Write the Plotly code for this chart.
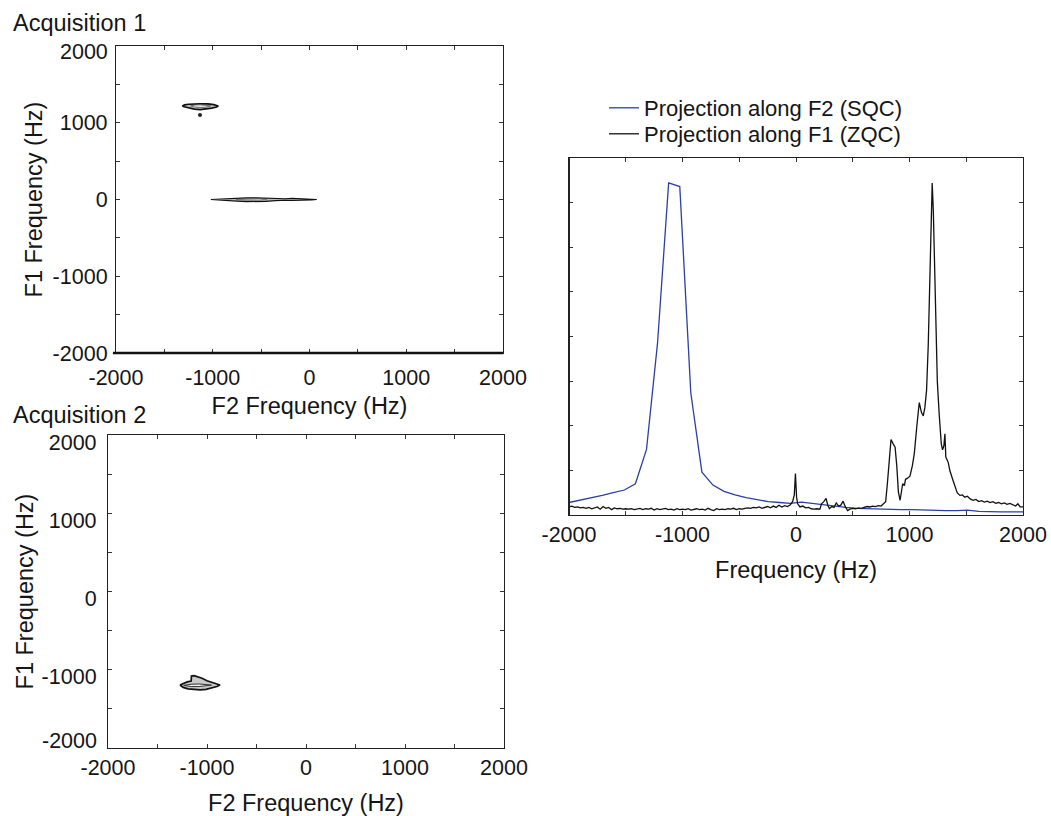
import plotly.graph_objects as go

W, H = 1051, 816
FONT = "Liberation Sans, Arial, sans-serif"
TXT = "#151515"

# ---------------- Right panel: 1D projections ----------------
sqc_freq = [-2000, -1902, -1805, -1707, -1610, -1512, -1415, -1317, -1220, -1122,
            -1024, -927, -829, -732, -634, -537, -439, -341, -244, -146,
            -49, 49, 146, 244, 341, 439, 537, 634, 732, 829,
            927, 1024, 1122, 1220, 1317, 1415, 1512, 1610, 1707, 1805,
            1902, 2000]
sqc_int = [0.28, 0.33, 0.38, 0.44, 0.50, 0.56, 0.70, 1.47, 3.85, 7.44,
           7.36, 2.74, 0.96, 0.67, 0.53, 0.45, 0.39, 0.34, 0.30, 0.28,
           0.26, 0.29, 0.26, 0.22, 0.19, 0.17, 0.15, 0.14, 0.13, 0.13,
           0.12, 0.12, 0.11, 0.11, 0.10, 0.10, 0.11, 0.08, 0.07, 0.07,
           0.07, 0.07]

zqc_freq = [-2000, -1975, -1950, -1925, -1900, -1875, -1850, -1825, -1800, -1775,
            -1750, -1725, -1700, -1675, -1650, -1625, -1600, -1575, -1550, -1525,
            -1500, -1475, -1450, -1425, -1400, -1375, -1350, -1325, -1300, -1275,
            -1250, -1225, -1200, -1175, -1150, -1125, -1100, -1075, -1050, -1025,
            -1000, -975, -950, -925, -900, -875, -850, -825, -800, -775,
            -750, -725, -700, -675, -650, -625, -600, -575, -550, -525,
            -500, -475, -450, -425, -400, -375, -350, -325, -300, -275,
            -250, -225, -200, -175, -150, -125, -100, -75, -50, -30,
            -15, -5, 5, 15, 35, 60, 85, 110, 135, 160,
            185, 210, 225, 245, 265, 280, 295, 315, 335, 355,
            375, 395, 415, 435, 455, 475, 500, 525, 550, 575,
            600, 625, 650, 675, 700, 725, 750, 770, 790, 805,
            820, 837, 855, 873, 888, 902, 917, 930, 940, 955,
            965, 980, 1004, 1025, 1042, 1065, 1086, 1105, 1121, 1135,
            1150, 1165, 1180, 1192, 1200, 1210, 1222, 1232, 1245, 1262,
            1280, 1291, 1303, 1312, 1320, 1341, 1356, 1380, 1400, 1420,
            1444, 1465, 1488, 1510, 1535, 1561, 1585, 1610, 1635, 1660,
            1685, 1710, 1735, 1760, 1785, 1810, 1835, 1860, 1885, 1910,
            1935, 1955, 1975, 2000]
zqc_int = [0.18, 0.20, 0.17, 0.18, 0.16, 0.17, 0.15, 0.17, 0.14, 0.16,
           0.18, 0.13, 0.19, 0.15, 0.17, 0.12, 0.16, 0.14, 0.15, 0.13,
           0.14, 0.13, 0.14, 0.12, 0.13, 0.15, 0.12, 0.14, 0.13, 0.15,
           0.11, 0.14, 0.12, 0.13, 0.15, 0.12, 0.13, 0.11, 0.14, 0.12,
           0.13, 0.12, 0.14, 0.11, 0.12, 0.14, 0.12, 0.13, 0.11, 0.15,
           0.12, 0.10, 0.14, 0.12, 0.13, 0.12, 0.14, 0.13, 0.15, 0.12,
           0.14, 0.13, 0.15, 0.16, 0.15, 0.17, 0.16, 0.18, 0.15, 0.17,
           0.19, 0.16, 0.20, 0.17, 0.22, 0.18, 0.21, 0.19, 0.23, 0.30,
           0.45, 0.93, 0.40, 0.25, 0.18, 0.20, 0.16, 0.17, 0.14, 0.13,
           0.14, 0.13, 0.25, 0.30, 0.37, 0.22, 0.14, 0.19, 0.17, 0.27,
           0.20, 0.22, 0.31, 0.18, 0.10, 0.13, 0.15, 0.14, 0.16, 0.15,
           0.17, 0.19, 0.18, 0.20, 0.19, 0.21, 0.20, 0.24, 0.30, 0.70,
           1.20, 1.69, 1.60, 1.52, 1.10, 0.52, 0.33, 0.55, 0.70, 0.66,
           0.80, 0.82, 0.87, 1.10, 1.37, 2.00, 2.52, 2.30, 2.22, 2.40,
           2.78, 3.80, 5.60, 6.90, 7.44, 6.80, 5.20, 4.04, 3.00, 2.24,
           1.60, 1.46, 1.55, 1.82, 1.30, 1.18, 0.99, 0.80, 0.62, 0.50,
           0.44, 0.45, 0.40, 0.42, 0.36, 0.33, 0.35, 0.30, 0.32, 0.29,
           0.31, 0.28, 0.30, 0.26, 0.28, 0.25, 0.27, 0.24, 0.26, 0.22,
           0.20, 0.25, 0.18, 0.18]

# ---------------- 2D panels: contour outlines ----------------
acq1_a_outer_f2 = [-1315, -1290, -1250, -1200, -1130, -1050, -990, -943,
                   -960, -1010, -1070, -1130, -1190, -1250, -1295, -1315]
acq1_a_outer_f1 = [1218, 1232, 1241, 1245, 1247, 1245, 1236, 1218,
                   1205, 1190, 1178, 1172, 1178, 1192, 1208, 1218]
acq1_a_inner_f2 = [-1230, -1180, -1130, -1070, -1020, -1070, -1130, -1190, -1230]
acq1_a_inner_f1 = [1220, 1232, 1234, 1230, 1220, 1203, 1197, 1205, 1220]
acq1_dot_f2 = [-1132]
acq1_dot_f1 = [1101]

acq1_b_outer_f2 = [-1020, -950, -850, -750, -650, -550, -450, -350, -300, -250,
                   -180, -110, -40, 20, 75,
                   20, -40, -110, -180, -250, -300, -350, -450, -550, -650,
                   -750, -850, -950, -1020]
acq1_b_outer_f1 = [0, 6, 12, 18, 22, 22, 18, 10, 7, 10,
                   16, 14, 8, 4, 0,
                   -4, -8, -12, -12, -10, -10, -14, -24, -30, -28,
                   -20, -12, -6, 0]
acq1_b_inner_f2 = [-760, -640, -520, -440, -520, -640, -760]
acq1_b_inner_f1 = [-2, 6, 6, -4, -14, -14, -2]

acq2_outer_f2 = [-1273, -1240, -1200, -1160, -1157, -1130, -1090, -1050, -1000,
                 -950, -900, -869,
                 -900, -950, -1010, -1070, -1130, -1190, -1240, -1273]
acq2_outer_f1 = [-1195, -1172, -1155, -1145, -1080, -1075, -1090, -1108, -1140,
                 -1160, -1180, -1195,
                 -1215, -1235, -1250, -1257, -1255, -1245, -1225, -1195]
acq2_inner_f2 = [-1235, -1160, -1080, -955, -1080, -1160, -1235]
acq2_inner_f1 = [-1200, -1185, -1182, -1196, -1215, -1215, -1200]

tick_vals = [-2000, -1500, -1000, -500, 0, 500, 1000, 1500, 2000]
tick_text = ["-2000", "", "-1000", "", "0", "", "1000", "", "2000"]
# panel 1 F1 labels: the top one is drawn separately (it sits below its tick)
tick_text_acq1_f1 = ["-2000", "", "-1000", "", "0", "", "1000", "", ""]
# panel 2 F1 labels: the bottom one is drawn separately (it sits above its tick)
tick_text_acq2_f1 = ["", "", "-1000", "", "0", "", "1000", "", "2000"]
y3_ticks = [1, 2, 3, 4, 5, 6, 7]


def px_x(p):
    return p / W


def px_y(p):
    return 1 - p / H


fig = go.Figure()

# 1D projections (right panel)
fig.add_trace(go.Scatter(x=sqc_freq, y=sqc_int, mode="lines",
                         name="Projection along F2 (SQC)",
                         line=dict(color="#2c3fa3", width=1.3),
                         xaxis="x3", yaxis="y3", legend="legend"))
fig.add_trace(go.Scatter(x=zqc_freq, y=zqc_int, mode="lines",
                         name="Projection along F1 (ZQC)",
                         line=dict(color="#111111", width=1.3),
                         xaxis="x3", yaxis="y3", legend="legend2"))


def blob(xs, ys, fill, lw, lc, xa, ya):
    fig.add_trace(go.Scatter(x=xs, y=ys, mode="lines", fill="toself",
                             fillcolor=fill, line=dict(color=lc, width=lw),
                             xaxis=xa, yaxis=ya, showlegend=False,
                             hoverinfo="skip"))


blob(acq1_a_outer_f2, acq1_a_outer_f1, "#c9c9c9", 1.7, "#111111", "x", "y")
blob(acq1_a_inner_f2, acq1_a_inner_f1, "#e6e6e6", 0.8, "#555555", "x", "y")
fig.add_trace(go.Scatter(x=acq1_dot_f2, y=acq1_dot_f1, mode="markers",
                         marker=dict(color="#222222", size=4),
                         xaxis="x", yaxis="y", showlegend=False,
                         hoverinfo="skip"))
blob(acq1_b_outer_f2, acq1_b_outer_f1, "#bdbdbd", 1.2, "#111111", "x", "y")
blob(acq1_b_inner_f2, acq1_b_inner_f1, "#e6e6e6", 0.6, "#555555", "x", "y")
blob(acq2_outer_f2, acq2_outer_f1, "#c9c9c9", 1.7, "#111111", "x2", "y2")
blob(acq2_inner_f2, acq2_inner_f1, "#f0f0f0", 1.0, "#333333", "x2", "y2")

tickfont = dict(family=FONT, size=21.5, color=TXT)
titlefont = dict(family=FONT, size=23.5, color=TXT)
legfont = dict(family=FONT, size=22, color=TXT)


def axis(domain, anchor, title=None, standoff=None, labels=True,
         vals=tick_vals, text=tick_text, rng=(-2000, 2000), lso=None, shift=None):
    d = dict(domain=domain, anchor=anchor, range=list(rng),
             tickmode="array", tickvals=vals,
             ticks="inside", ticklen=4, tickwidth=1, tickcolor="#333333",
             showline=True, linecolor="#222222", linewidth=1.2,
             mirror="allticks", showgrid=False, zeroline=False,
             showticklabels=labels, tickfont=tickfont, fixedrange=True,
             automargin=False)
    if text is not None:
        d["ticktext"] = text
    if title:
        d["title"] = dict(text=title, font=titlefont, standoff=standoff)
    if lso is not None:
        d["ticklabelstandoff"] = lso
    if shift is not None:
        d["ticklabelshift"] = shift
    return d


def leg(top_px):
    return dict(x=px_x(604), y=px_y(top_px), xanchor="left", yanchor="top",
                bgcolor="rgba(0,0,0,0)", borderwidth=0, font=legfont)


layout = dict(
    width=W, height=H,
    margin=dict(l=0, r=0, t=0, b=0, autoexpand=False),
    paper_bgcolor="white", plot_bgcolor="white",
    font=dict(family=FONT, color=TXT),
    showlegend=True,
    legend=leg(87),
    legend2=leg(113),
    xaxis=axis([px_x(116), px_x(503)], "y", "F2 Frequency (Hz)", 8, lso=5),
    yaxis=axis([px_y(353), px_y(46)], "x", "F1 Frequency (Hz)", 3, lso=3,
               text=tick_text_acq1_f1),
    xaxis2=axis([px_x(108), px_x(504)], "y2", "F2 Frequency (Hz)", 20, lso=0),
    yaxis2=axis([px_y(748), px_y(435)], "x2", "F1 Frequency (Hz)", 1, lso=6,
                shift=7, text=tick_text_acq2_f1),
    xaxis3=axis([px_x(569), px_x(1023)], "y3", "Frequency (Hz)", 15, lso=0),
    yaxis3=axis([px_y(515), px_y(158)], "x3", labels=False, vals=y3_ticks,
                text=None, rng=(0, 8)),
    annotations=[
        dict(text="Acquisition 1", x=px_x(11), y=px_y(23), xref="paper",
             yref="paper", xanchor="left", yanchor="middle", showarrow=False,
             font=titlefont),
        dict(text="Acquisition 2", x=px_x(11), y=px_y(415), xref="paper",
             yref="paper", xanchor="left", yanchor="middle", showarrow=False,
             font=titlefont),
        dict(text=tick_text[-1], x=0, y=tick_vals[-1], xref="x domain",
             yref="y", xanchor="right", yanchor="middle", xshift=-6,
             yshift=-6, showarrow=False, font=tickfont),
        dict(text=tick_text[0], x=0, y=tick_vals[0], xref="x2 domain",
             yref="y2", xanchor="right", yanchor="middle", xshift=-9,
             yshift=7, showarrow=False, font=tickfont),
    ],
    shapes=[
        # heavier bottom axis of the first 2D panel
        dict(type="line", xref="x domain", yref="y domain", x0=-0.008, x1=1,
             y0=0, y1=0, line=dict(color="#111111", width=2.6)),
        # heavier left axis of the projection panel
        dict(type="line", xref="x3 domain", yref="y3 domain", x0=0, x1=0,
             y0=0, y1=1, line=dict(color="#222222", width=2)),
    ],
)
fig.update_layout(**layout)

fig.write_html("out.html")
